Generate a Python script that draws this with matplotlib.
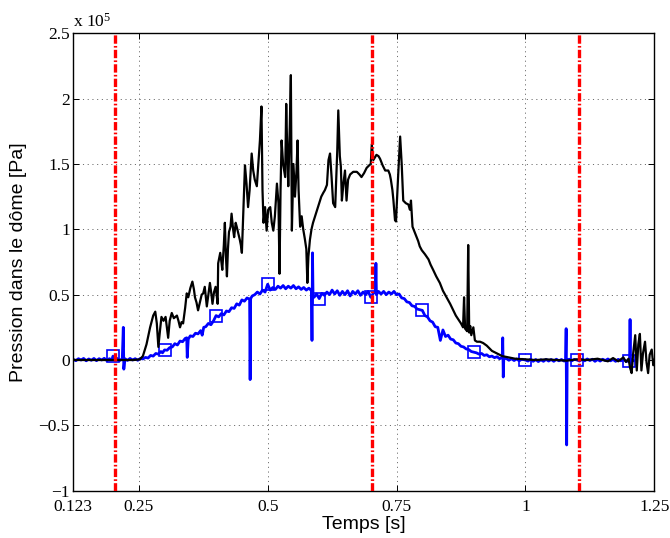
import matplotlib
matplotlib.use("Agg")
import matplotlib.pyplot as plt

plt.rcParams['lines.scale_dashes'] = False
plt.rcParams['mathtext.fontset'] = 'custom'
plt.rcParams['mathtext.rm'] = 'Liberation Serif'
plt.rcParams['mathtext.it'] = 'Liberation Serif:italic'

# ---------------- data (pressure in units of 1e5 Pa, time in s) ----------------
black_t = [
    0.123, 0.150, 0.200, 0.240, 0.252, 0.258, 0.265, 0.272, 0.278, 0.282,
    0.285, 0.288, 0.291, 0.294, 0.298, 0.302, 0.307, 0.310, 0.314, 0.318,
    0.324, 0.327, 0.330, 0.333, 0.336, 0.340, 0.343, 0.346, 0.350, 0.354,
    0.357, 0.359, 0.362, 0.365, 0.369, 0.372, 0.375, 0.378, 0.382, 0.385,
    0.388, 0.391, 0.393, 0.396, 0.399, 0.401, 0.403, 0.404, 0.408, 0.410,
    0.412, 0.415, 0.417, 0.419, 0.421, 0.423, 0.425, 0.428, 0.430, 0.433,
    0.435, 0.438, 0.440, 0.443, 0.446, 0.448, 0.450, 0.453, 0.456, 0.459,
    0.462, 0.465, 0.469, 0.472, 0.475, 0.479, 0.482, 0.485, 0.488, 0.490,
    0.492, 0.495, 0.498, 0.501, 0.505, 0.508, 0.511, 0.514, 0.518, 0.521,
    0.523, 0.525, 0.527, 0.530, 0.534, 0.536, 0.538, 0.540, 0.543, 0.545,
    0.547, 0.550, 0.553, 0.556, 0.558, 0.560, 0.563, 0.566, 0.569, 0.572,
    0.575, 0.577, 0.579, 0.582, 0.585, 0.588, 0.592, 0.596, 0.600, 0.604,
    0.608, 0.611, 0.615, 0.618, 0.621, 0.624, 0.627, 0.631, 0.635, 0.637,
    0.640, 0.642, 0.644, 0.647, 0.650, 0.653, 0.656, 0.660, 0.666, 0.673,
    0.678, 0.682, 0.687, 0.692, 0.697, 0.700, 0.702, 0.705, 0.708, 0.711,
    0.715, 0.718, 0.723, 0.728, 0.734, 0.737, 0.739, 0.742, 0.744, 0.747,
    0.749, 0.750, 0.753, 0.757, 0.760, 0.763, 0.768, 0.773, 0.776, 0.778,
    0.781, 0.785, 0.789, 0.792, 0.795, 0.799, 0.805, 0.812, 0.816, 0.821,
    0.827, 0.834, 0.840, 0.847, 0.854, 0.860, 0.865, 0.870, 0.875, 0.879,
    0.881, 0.883, 0.885, 0.887, 0.889, 0.891, 0.893, 0.895, 0.899, 0.902,
    0.906, 0.912, 0.918, 0.925, 0.935, 0.945, 0.955, 0.967, 0.980, 1.000,
    1.020, 1.040, 1.060, 1.080, 1.100, 1.120, 1.140, 1.160, 1.170, 1.180,
    1.190, 1.195, 1.200, 1.203, 1.206, 1.209, 1.213, 1.216, 1.219, 1.222,
    1.225, 1.228, 1.232, 1.235, 1.238, 1.241, 1.245, 1.248, 1.250,
]
black_p = [
    0.0, 0.0, 0.0, 0.0, 0.005, 0.03, 0.12, 0.25, 0.34, 0.37,
    0.28, 0.10, 0.22, 0.33, 0.30, 0.33, 0.17, 0.30, 0.36, 0.32,
    0.34, 0.30, 0.25, 0.29, 0.28, 0.40, 0.51, 0.48, 0.55, 0.60,
    0.54, 0.48, 0.44, 0.38, 0.45, 0.50, 0.51, 0.56, 0.41, 0.50,
    0.59, 0.50, 0.43, 0.52, 0.56, 0.50, 0.43, 0.74, 0.82, 0.76,
    0.69, 0.88, 1.05, 0.80, 0.64, 0.85, 0.98, 1.02, 1.12, 1.00,
    0.94, 1.05, 1.02, 0.97, 0.92, 0.88, 0.82, 1.15, 1.49, 1.35,
    1.17, 1.30, 1.58, 1.45, 1.38, 1.33, 1.51, 1.68, 1.94, 1.30,
    1.05, 1.17, 0.99, 1.15, 1.17, 1.05, 0.99, 1.10, 1.35, 1.20,
    0.66, 1.30, 1.68, 1.50, 1.40, 1.96, 1.60, 1.33, 1.80, 2.18,
    0.99, 1.50, 1.25, 1.45, 1.68, 1.30, 1.02, 1.10, 1.00, 0.93,
    0.85, 0.59, 0.79, 0.92, 1.00, 1.05, 1.10, 1.15, 1.20, 1.25,
    1.28, 1.30, 1.34, 1.53, 1.58, 1.40, 1.20, 1.17, 1.60, 1.91,
    1.56, 1.48, 1.22, 1.35, 1.45, 1.22, 1.38, 1.42, 1.44, 1.44,
    1.42, 1.40, 1.43, 1.47, 1.49, 1.50, 1.65, 1.53, 1.55, 1.57,
    1.56, 1.54, 1.49, 1.45, 1.45, 1.42, 1.38, 1.30, 1.22, 1.07,
    1.06, 1.15, 1.40, 1.71, 1.50, 1.22, 1.20, 1.19, 1.15, 1.22,
    1.02, 0.98, 0.94, 0.91, 0.87, 0.84, 0.81, 0.77, 0.73, 0.69,
    0.64, 0.59, 0.53, 0.48, 0.43, 0.38, 0.34, 0.31, 0.28, 0.25,
    0.48, 0.24, 0.23, 0.22, 0.88, 0.21, 0.26, 0.19, 0.25, 0.15,
    0.14, 0.14, 0.13, 0.11, 0.07, 0.05, 0.03, 0.02, 0.01, 0.005,
    0.0, 0.005, 0.0, -0.005, 0.005, 0.0, 0.01, -0.01, 0.015, -0.01,
    0.02, -0.015, 0.01, -0.06, -0.10, 0.05, 0.19, -0.08, 0.12, 0.20,
    -0.08, 0.05, 0.14, -0.02, -0.10, 0.04, 0.08, -0.04, 0.0,
]

blue_t = [
    0.123, 0.128, 0.133, 0.138, 0.143, 0.148, 0.153, 0.158, 0.163, 0.168,
    0.173, 0.178, 0.183, 0.188, 0.193, 0.198, 0.200, 0.203, 0.208, 0.213,
    0.218, 0.220, 0.221, 0.223, 0.228, 0.233, 0.238, 0.243, 0.248, 0.253,
    0.258, 0.263, 0.268, 0.273, 0.278, 0.283, 0.288, 0.293, 0.296, 0.300,
    0.305, 0.310, 0.315, 0.320, 0.325, 0.330, 0.335, 0.340, 0.343, 0.344,
    0.346, 0.350, 0.355, 0.360, 0.365, 0.370, 0.373, 0.376, 0.380, 0.385,
    0.390, 0.395, 0.400, 0.405, 0.410, 0.415, 0.420, 0.425, 0.430, 0.435,
    0.440, 0.445, 0.450, 0.455, 0.460, 0.465, 0.466, 0.467, 0.470, 0.475,
    0.480, 0.485, 0.490, 0.495, 0.500, 0.505, 0.510, 0.515, 0.520, 0.525,
    0.530, 0.535, 0.540, 0.545, 0.550, 0.555, 0.560, 0.565, 0.570, 0.575,
    0.580, 0.585, 0.586, 0.587, 0.588, 0.590, 0.595, 0.600, 0.605, 0.610,
    0.615, 0.620, 0.625, 0.630, 0.635, 0.640, 0.645, 0.650, 0.655, 0.660,
    0.665, 0.670, 0.675, 0.680, 0.685, 0.690, 0.695, 0.700, 0.705, 0.709,
    0.710, 0.711, 0.715, 0.720, 0.725, 0.730, 0.735, 0.740, 0.745, 0.750,
    0.755, 0.760, 0.765, 0.770, 0.775, 0.780, 0.785, 0.790, 0.795, 0.800,
    0.805, 0.810, 0.815, 0.820, 0.825, 0.830, 0.835, 0.840, 0.845, 0.850,
    0.855, 0.860, 0.865, 0.870, 0.875, 0.880, 0.885, 0.890, 0.895, 0.900,
    0.905, 0.910, 0.915, 0.920, 0.925, 0.930, 0.935, 0.940, 0.945, 0.950,
    0.955, 0.956, 0.957, 0.958, 0.963, 0.968, 0.973, 0.978, 0.983, 0.988,
    0.993, 1.000, 1.005, 1.010, 1.015, 1.020, 1.025, 1.030, 1.035, 1.040,
    1.045, 1.050, 1.055, 1.060, 1.065, 1.070, 1.075, 1.078, 1.079, 1.080,
    1.081, 1.085, 1.090, 1.095, 1.100, 1.105, 1.110, 1.115, 1.120, 1.125,
    1.130, 1.135, 1.140, 1.145, 1.150, 1.155, 1.160, 1.165, 1.170, 1.175,
    1.180, 1.185, 1.190, 1.195, 1.200, 1.202, 1.203, 1.204, 1.206, 1.210,
]
blue_p = [
    0.005, -0.005, 0.01, 0.0, 0.012, -0.006, 0.008, -0.002, 0.012, -0.005,
    0.01, 0.0, 0.013, -0.004, 0.01, 0.002, 0.03, 0.005, 0.012, -0.004,
    0.01, 0.25, -0.07, 0.01, -0.003, 0.012, 0.0, 0.01, -0.002, 0.012,
    0.008, 0.02, 0.015, 0.035, 0.03, 0.05, 0.045, 0.065, 0.055, 0.077,
    0.075, 0.095, 0.10, 0.125, 0.115, 0.145, 0.14, 0.165, 0.17, 0.02,
    0.16, 0.185, 0.18, 0.205, 0.20, 0.225, 0.19, 0.25, 0.255, 0.28,
    0.27, 0.30, 0.34, 0.33, 0.355, 0.345, 0.375, 0.37, 0.40, 0.395,
    0.43, 0.42, 0.46, 0.45, 0.475, 0.465, -0.15, 0.47, 0.49, 0.50,
    0.52, 0.505, 0.535, 0.52, 0.58, 0.535, 0.555, 0.54, 0.565, 0.55,
    0.57, 0.545, 0.565, 0.55, 0.57, 0.545, 0.56, 0.54, 0.555, 0.535,
    0.55, 0.53, 0.15, 0.82, 0.50, 0.48, 0.505, 0.47, 0.51, 0.495,
    0.52, 0.50, 0.535, 0.505, 0.53, 0.495, 0.525, 0.50, 0.53, 0.49,
    0.525, 0.505, 0.53, 0.495, 0.52, 0.50, 0.525, 0.48, 0.51, 0.52,
    0.74, 0.50, 0.525, 0.505, 0.525, 0.50, 0.52, 0.505, 0.525, 0.50,
    0.505, 0.475, 0.47, 0.445, 0.44, 0.415, 0.41, 0.39, 0.385, 0.38,
    0.34, 0.33, 0.30, 0.29, 0.255, 0.25, 0.15, 0.23, 0.18, 0.19,
    0.16, 0.155, 0.13, 0.125, 0.105, 0.10, 0.085, 0.08, 0.065, 0.06,
    0.055, 0.045, 0.05, 0.035, 0.04, 0.025, 0.03, 0.018, 0.025, 0.01,
    0.02, 0.17, -0.13, 0.01, 0.012, -0.002, 0.01, -0.004, 0.008, -0.006,
    0.006, 0.0, -0.008, 0.006, -0.01, 0.004, -0.012, 0.002, -0.01, 0.005,
    -0.008, 0.004, -0.01, 0.006, -0.006, 0.004, -0.008, 0.0, 0.24, -0.65,
    0.0, 0.006, -0.006, 0.005, 0.0, -0.008, 0.006, -0.006, 0.008, -0.004,
    0.006, -0.01, 0.004, -0.008, 0.006, -0.004, 0.008, -0.006, 0.004, -0.01,
    0.005, -0.006, 0.004, -0.008, -0.01, 0.0, 0.31, -0.05, 0.0, -0.005,
]

marker_times = [0.2, 0.3, 0.4, 0.5, 0.6, 0.7, 0.8, 0.9, 1.0, 1.1, 1.2]
event_times = [0.204, 0.702, 1.103]

x_ticks = [0.123, 0.25, 0.5, 0.75, 1.0, 1.25]
x_ticklabels = ["0.123", "0.25", "0.5", "0.75", "1", "1.25"]
y_ticks = [-1, -0.5, 0, 0.5, 1, 1.5, 2, 2.5]
y_ticklabels = ["\u22121", "\u22120.5", "0", "0.5", "1", "1.5", "2", "2.5"]

# ---------------- figure ----------------
fig = plt.figure(figsize=(6.70, 5.38), dpi=100)
ax = fig.add_axes([73.3 / 670, 1 - 490.7 / 538, (654.3 - 73.3) / 670, (490.7 - 33.3) / 538])

mark_idx = [i for i, t in enumerate(blue_t)
            if any(abs(t - m) < 1e-9 for m in marker_times)]

ax.plot(blue_t, blue_p, color='#0000ff', lw=2.0, marker='s', markevery=mark_idx,
        markersize=9, markerfacecolor='none', markeredgecolor='#0000ff',
        markeredgewidth=1.2, zorder=2)
ax.plot(black_t, black_p, color='black', lw=1.6, zorder=3)

for et in event_times:
    ax.axvline(et, color='#ff0000', lw=2.4, dashes=(6, 1.6, 1.2, 1.6), zorder=4)

ax.set_xlim(0.123, 1.25)
ax.set_ylim(-1, 2.5)
ax.set_xticks(x_ticks)
ax.set_xticklabels(x_ticklabels)
ax.set_yticks(y_ticks)
ax.set_yticklabels(y_ticklabels)

ax.grid(True, color='#555555', lw=0.6, dashes=(0.8, 2.6))
ax.set_axisbelow(True)
ax.tick_params(direction='in', top=True, right=True, length=4, width=0.7,
               labelsize=12.5)
ax.tick_params(axis='x', pad=6)
ax.tick_params(axis='y', pad=2.5)
for lab in ax.get_xticklabels() + ax.get_yticklabels():
    lab.set_family('Liberation Serif')
for sp in ax.spines.values():
    sp.set_linewidth(1.0)

ax.set_xlabel("Temps [s]", fontsize=14, family='Liberation Sans', labelpad=1)
ax.set_ylabel("Pression dans le dôme [Pa]", fontsize=14, family='Liberation Sans',
              labelpad=8)

ax.text(0.0, 1.005, "x 10$^{5}$", transform=ax.transAxes, ha='left', va='bottom',
        fontsize=12.5, family='Liberation Serif')

fig.savefig("out.png", dpi=100)
